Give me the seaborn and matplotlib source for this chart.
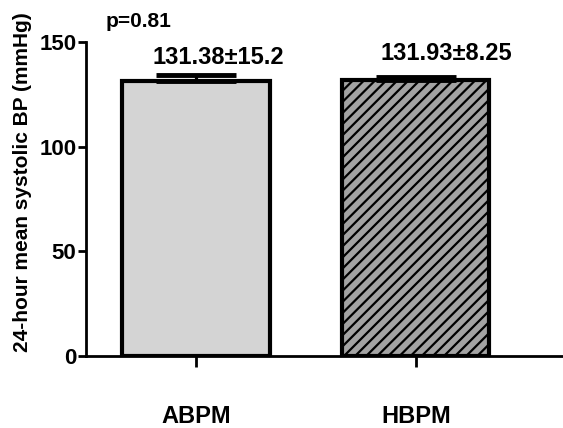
import matplotlib
matplotlib.use("Agg")
import matplotlib.pyplot as plt
import seaborn as sns
import pandas as pd

# Data
groups = ["ABPM", "HBPM"]
means = [131.38, 131.93]
sds = [15.2, 8.25]
sems = [2.7, 1.5]  # error bars drawn on the chart
p_text = "p=0.81"

sns.set_style("ticks")
plt.rcParams["font.family"] = ["Liberation Sans", "DejaVu Sans"]
plt.rcParams["font.weight"] = "bold"
plt.rcParams["hatch.linewidth"] = 1.6
for k in ["text.color", "axes.labelcolor", "xtick.color", "ytick.color",
          "axes.edgecolor"]:
    plt.rcParams[k] = "black"

df = pd.DataFrame({"group": groups, "mean": means})

fig = plt.figure(figsize=(5.63, 4.28), dpi=100)
ax = fig.add_axes([0.153, 0.168, 0.847, 0.734])

sns.barplot(data=df, x="group", y="mean", hue="group",
            palette=["#d4d4d4", "#a3a3a3"], width=0.67,
            edgecolor="black", linewidth=3, errorbar=None,
            legend=False, ax=ax)
ax.patches[1].set_hatch("///")

# one-sided error bars
ax.errorbar([0, 1], means, yerr=[[0, 0], sems], fmt="none",
            ecolor="black", elinewidth=2.3, capsize=29, capthick=3.5,
            zorder=1)

for i, (m, s) in enumerate(zip(means, sds)):
    ax.text(i + 0.1 + 0.04 * i, 142.8 + 1.8 * i, f"{m}\u00b1{s}",
            ha="center", va="center", fontsize=17, fontweight="bold")

ax.text(-0.41, 160, p_text, ha="left", va="center", fontsize=15,
        fontweight="bold", clip_on=False)

ax.set_xlim(-0.5, 1.67)
ax.set_ylim(0, 150)
ax.set_yticks([0, 50, 100, 150])
ax.set_xlabel("")
ax.set_ylabel("24-hour mean systolic BP (mmHg)", fontsize=15,
              fontweight="bold")
ax.yaxis.set_label_coords(-0.113, 0.554)
sns.despine(ax=ax)
for sp in ["left", "bottom"]:
    ax.spines[sp].set_linewidth(2)
ax.tick_params(axis="y", length=6, width=2, labelsize=16, pad=1)
ax.tick_params(axis="x", length=8, width=2, labelsize=17, pad=27)

fig.savefig("out.png", dpi=100)
